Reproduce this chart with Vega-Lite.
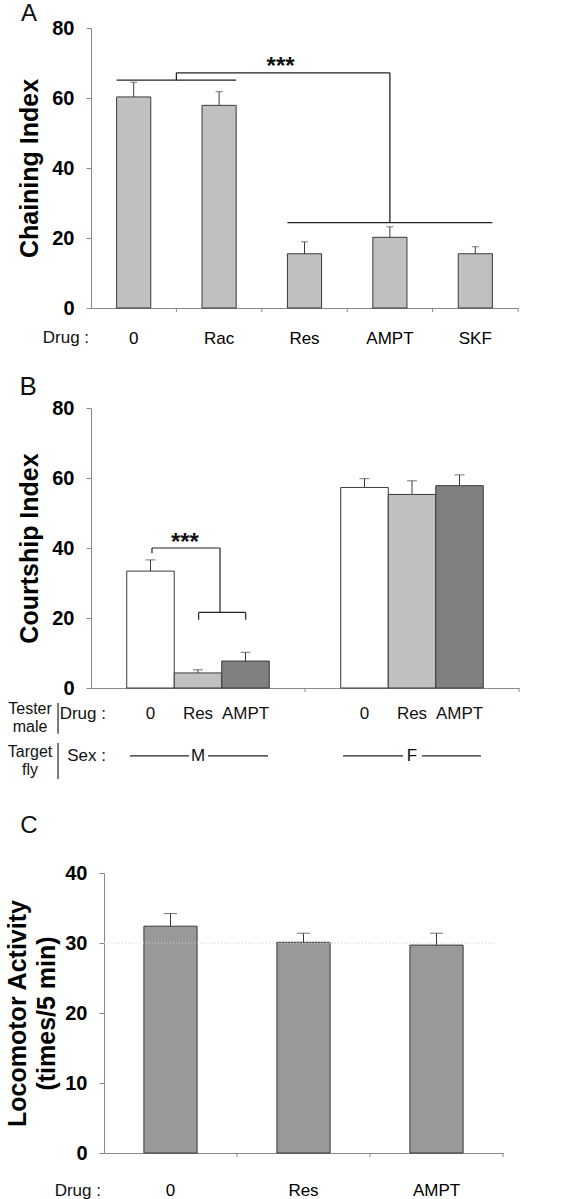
{
  "$schema": "https://vega.github.io/schema/vega-lite/v6.json",
  "padding": {"left": 5, "top": 2, "right": 5, "bottom": 2},
  "bounds": "flush",
  "spacing": 100,
  "datasets": {
    "barsA": [
      {"drug": "0", "value": 60.3, "hi": 64.5},
      {"drug": "Rac", "value": 57.9, "hi": 61.8},
      {"drug": "Res", "value": 15.5, "hi": 18.9},
      {"drug": "AMPT", "value": 20.2, "hi": 23.2},
      {"drug": "SKF", "value": 15.5, "hi": 17.5}
    ],
    "barsB": [
      {"sex": "M", "drug": "0", "value": 33.4, "hi": 36.6},
      {"sex": "M", "drug": "Res", "value": 4.3, "hi": 5.2},
      {"sex": "M", "drug": "AMPT", "value": 7.7, "hi": 10.2},
      {"sex": "F", "drug": "0", "value": 57.3, "hi": 59.8},
      {"sex": "F", "drug": "Res", "value": 55.3, "hi": 59.2},
      {"sex": "F", "drug": "AMPT", "value": 57.8, "hi": 60.9}
    ],
    "barsC": [
      {"drug": "0", "value": 32.4, "hi": 34.2},
      {"drug": "Res", "value": 30.1, "hi": 31.4},
      {"drug": "AMPT", "value": 29.7, "hi": 31.4}
    ]
  },
  "vconcat": [
    {
      "width": 427,
      "height": 280,
      "layer": [
        {
          "data": {"name": "barsA"},
          "encoding": {
            "x": {"field": "drug", "type": "nominal", "sort": null,
                  "scale": {"paddingInner": 0.6, "paddingOuter": 0.3},
                  "axis": {"title": null, "labelPadding": 30.5, "orient": "bottom"}}
          },
          "layer": [
            {"mark": {"type": "bar", "fill": "#c0c0c0", "stroke": "#3a3a3a", "strokeWidth": 1},
             "encoding": {"y": {"field": "value", "type": "quantitative", "scale": {"domain": [0, 80]},
                                "axis": {"title": "Chaining Index", "values": [0, 20, 40, 60, 80], "titleX": -62, "titleY": 140}}}},
            {"mark": {"type": "rule", "color": "#3a3a3a", "strokeWidth": 1},
             "encoding": {"y": {"field": "value", "type": "quantitative",
                                "axis": {"title": "Chaining Index", "values": [0, 20, 40, 60, 80], "titleX": -62, "titleY": 140}}, "y2": {"field": "hi"}}},
            {"mark": {"type": "tick", "color": "#3a3a3a", "size": 7, "thickness": 1},
             "encoding": {"y": {"field": "hi", "type": "quantitative",
                                "axis": {"title": "Chaining Index", "values": [0, 20, 40, 60, 80], "titleX": -62, "titleY": 140}}}}
          ]
        },
        {
          "encoding": {
            "x": {"field": "x", "type": "quantitative", "scale": {"domain": [0, 5], "nice": false, "zero": false}, "axis": null},
            "y": {"field": "y", "type": "quantitative", "scale": {"domain": [0, 80]},
                  "axis": {"title": "Chaining Index", "values": [0, 20, 40, 60, 80], "titleX": -62, "titleY": 140}}
          },
          "layer": [
            {"data": {"values": [
               {"x": 0.3, "x2": 1.7, "y": 65.1, "y2": 65.1},
               {"x": 1.0, "x2": 1.0, "y": 65.1, "y2": 67.2},
               {"x": 1.0, "x2": 3.5, "y": 67.2, "y2": 67.2},
               {"x": 3.5, "x2": 3.5, "y": 67.2, "y2": 24.4},
               {"x": 2.3, "x2": 4.7, "y": 24.4, "y2": 24.4}
             ]},
             "mark": {"type": "rule", "color": "#222222", "strokeWidth": 1.3},
             "encoding": {"x2": {"field": "x2"}, "y2": {"field": "y2"}}},
            {"data": {"values": [
               {"x": 1, "x2": 1, "y": 0, "y2": -1.14},
               {"x": 2, "x2": 2, "y": 0, "y2": -1.14},
               {"x": 3, "x2": 3, "y": 0, "y2": -1.14},
               {"x": 4, "x2": 4, "y": 0, "y2": -1.14},
               {"x": 5, "x2": 5, "y": 0, "y2": -1.14}
             ]},
             "mark": {"type": "rule", "color": "#888888", "strokeWidth": 1},
             "encoding": {"x2": {"field": "x2"}, "y2": {"field": "y2"}}},
            {"data": {"values": [{"t": "***", "x": 2.22, "y": 66.8}]},
             "mark": {"type": "text", "fontSize": 24, "fontWeight": "bold", "baseline": "alphabetic", "color": "#111111"},
             "encoding": {"text": {"field": "t"}}},
            {"data": {"values": [{"t": "A", "x": -0.726, "y": 83.9}]},
             "mark": {"type": "text", "fontSize": 24, "baseline": "middle", "color": "#111111"},
             "encoding": {"text": {"field": "t"}}},
            {"data": {"values": [{"t": "Drug :", "x": -0.023, "y": -8.43}]},
             "mark": {"type": "text", "fontSize": 17, "align": "right", "baseline": "middle", "color": "#111111"},
             "encoding": {"text": {"field": "t"}}}
          ]
        }
      ],
      "resolve": {"scale": {"x": "independent"}}
    },
    {
      "width": 428,
      "height": 280,
      "layer": [
        {
          "data": {"name": "barsB"},
          "encoding": {
            "x": {"field": "sex", "type": "nominal", "sort": null,
                  "scale": {"paddingInner": 0.334, "paddingOuter": 0.167},
                  "axis": {"title": null, "labels": false, "orient": "bottom"}},
            "xOffset": {"field": "drug", "type": "nominal", "sort": null, "scale": {"paddingInner": 0, "paddingOuter": 0}}
          },
          "layer": [
            {"mark": {"type": "bar", "stroke": "#3a3a3a", "strokeWidth": 1},
             "encoding": {
               "y": {"field": "value", "type": "quantitative", "scale": {"domain": [0, 80]},
                     "axis": {"title": "Courtship Index", "values": [0, 20, 40, 60, 80], "titleX": -62, "titleY": 140}},
               "fill": {"field": "drug", "type": "nominal", "sort": null,
                        "scale": {"domain": ["0", "Res", "AMPT"], "range": ["#ffffff", "#c0c0c0", "#808080"]}, "legend": null}
             }},
            {"mark": {"type": "rule", "color": "#3a3a3a", "strokeWidth": 1},
             "encoding": {"y": {"field": "value", "type": "quantitative",
                                "axis": {"title": "Courtship Index", "values": [0, 20, 40, 60, 80], "titleX": -62, "titleY": 140}}, "y2": {"field": "hi"}}},
            {"mark": {"type": "tick", "color": "#3a3a3a", "size": 10, "thickness": 1},
             "encoding": {"y": {"field": "hi", "type": "quantitative",
                                "axis": {"title": "Courtship Index", "values": [0, 20, 40, 60, 80], "titleX": -62, "titleY": 140}}}},
            {"mark": {"type": "text", "fontSize": 17, "baseline": "middle", "color": "#111111"},
             "encoding": {"y": {"datum": -7.4, "type": "quantitative",
                                "axis": {"title": "Courtship Index", "values": [0, 20, 40, 60, 80], "titleX": -62, "titleY": 140}}, "text": {"field": "drug"}}}
          ]
        },
        {
          "encoding": {
            "x": {"field": "x", "type": "quantitative", "scale": {"domain": [0, 2], "nice": false, "zero": false}, "axis": null},
            "y": {"field": "y", "type": "quantitative", "scale": {"domain": [0, 80]},
                  "axis": {"title": "Courtship Index", "values": [0, 20, 40, 60, 80], "titleX": -62, "titleY": 140}}
          },
          "layer": [
            {"data": {"values": [
               {"x": 0.285, "x2": 0.285, "y": 38.5, "y2": 40},
               {"x": 0.285, "x2": 0.603, "y": 40, "y2": 40},
               {"x": 0.603, "x2": 0.603, "y": 40, "y2": 21.6},
               {"x": 0.503, "x2": 0.723, "y": 21.6, "y2": 21.6},
               {"x": 0.503, "x2": 0.503, "y": 21.6, "y2": 19.5},
               {"x": 0.723, "x2": 0.723, "y": 21.6, "y2": 19.5},
               {"x": -0.154, "x2": -0.154, "y": -4.3, "y2": -13.1},
               {"x": -0.154, "x2": -0.154, "y": -15.7, "y2": -26},
               {"x": 0.182, "x2": 0.458, "y": -19.4, "y2": -19.4},
               {"x": 0.547, "x2": 0.827, "y": -19.4, "y2": -19.4},
               {"x": 1.178, "x2": 1.458, "y": -19.4, "y2": -19.4},
               {"x": 1.547, "x2": 1.822, "y": -19.4, "y2": -19.4}
             ]},
             "mark": {"type": "rule", "color": "#222222", "strokeWidth": 1.2},
             "encoding": {"x2": {"field": "x2"}, "y2": {"field": "y2"}}},
            {"data": {"values": [
               {"x": 1, "x2": 1, "y": 0, "y2": -1.14},
               {"x": 2, "x2": 2, "y": 0, "y2": -1.14}
             ]},
             "mark": {"type": "rule", "color": "#888888", "strokeWidth": 1},
             "encoding": {"x2": {"field": "x2"}, "y2": {"field": "y2"}}},
            {"data": {"values": [{"t": "***", "x": 0.439, "y": 39.4}]},
             "mark": {"type": "text", "fontSize": 24, "fontWeight": "bold", "baseline": "alphabetic", "color": "#111111"},
             "encoding": {"text": {"field": "t"}}},
            {"data": {"values": [{"t": "B", "x": -0.294, "y": 86}]},
             "mark": {"type": "text", "fontSize": 26, "baseline": "middle", "color": "#111111"},
             "encoding": {"text": {"field": "t"}}},
            {"data": {"values": [
               {"t": "Tester", "x": -0.285, "y": -5.9},
               {"t": "male", "x": -0.285, "y": -11.1},
               {"t": "Target", "x": -0.285, "y": -18.4},
               {"t": "fly", "x": -0.285, "y": -23.3}
             ]},
             "mark": {"type": "text", "fontSize": 16, "align": "center", "baseline": "middle", "color": "#111111"},
             "encoding": {"text": {"field": "t"}}},
            {"data": {"values": [
               {"t": "Drug :", "x": 0.07, "y": -7.4},
               {"t": "Sex :", "x": 0.07, "y": -19.4}
             ]},
             "mark": {"type": "text", "fontSize": 17, "align": "right", "baseline": "middle", "color": "#111111"},
             "encoding": {"text": {"field": "t"}}},
            {"data": {"values": [
               {"t": "M", "x": 0.5, "y": -19.4},
               {"t": "F", "x": 1.5, "y": -19.4}
             ]},
             "mark": {"type": "text", "fontSize": 17, "align": "center", "baseline": "middle", "color": "#111111"},
             "encoding": {"text": {"field": "t"}}}
          ]
        }
      ],
      "resolve": {"scale": {"x": "independent"}}
    },
    {
      "width": 412,
      "height": 365,
      "layer": [
        {
          "data": {"name": "barsC"},
          "encoding": {
            "x": {"field": "drug", "type": "nominal", "sort": null,
                  "scale": {"range": [13, 412], "paddingInner": 0.6, "paddingOuter": 0.3},
                  "axis": {"title": null, "labelPadding": 37.5, "orient": "bottom"}}
          },
          "layer": [
            {"mark": {"type": "bar", "fill": "#999999", "stroke": "#3a3a3a", "strokeWidth": 1},
             "encoding": {"y": {"field": "value", "type": "quantitative", "scale": {"domain": [0, 40], "range": [365, 85]},
                                "axis": {"title": ["Locomotor Activity", "(times/5 min)"], "values": [0, 10, 20, 30, 40], "offset": -13,
                                         "titleX": -87, "titleY": 225, "titleLineHeight": 29}}}},
            {"mark": {"type": "rule", "color": "#3a3a3a", "strokeWidth": 1},
             "encoding": {"y": {"field": "value", "type": "quantitative",
                                "axis": {"title": ["Locomotor Activity", "(times/5 min)"], "values": [0, 10, 20, 30, 40], "offset": -13,
                                         "titleX": -87, "titleY": 225, "titleLineHeight": 29}}, "y2": {"field": "hi"}}},
            {"mark": {"type": "tick", "color": "#3a3a3a", "size": 13, "thickness": 1},
             "encoding": {"y": {"field": "hi", "type": "quantitative",
                                "axis": {"title": ["Locomotor Activity", "(times/5 min)"], "values": [0, 10, 20, 30, 40], "offset": -13,
                                         "titleX": -87, "titleY": 225, "titleLineHeight": 29}}}}
          ]
        },
        {
          "encoding": {
            "x": {"field": "x", "type": "quantitative", "scale": {"domain": [0, 3], "range": [13, 412], "nice": false, "zero": false}, "axis": null},
            "y": {"field": "y", "type": "quantitative", "scale": {"domain": [0, 40], "range": [365, 85]},
                  "axis": {"title": ["Locomotor Activity", "(times/5 min)"], "values": [0, 10, 20, 30, 40], "offset": -13,
                           "titleX": -87, "titleY": 225, "titleLineHeight": 29}}
          },
          "layer": [
            {"data": {"values": [{"x": 0, "x2": 2.95, "y": 30, "y2": 30}]},
             "mark": {"type": "rule", "color": "#d0d0d0", "strokeWidth": 1, "strokeDash": [1, 2]},
             "encoding": {"x2": {"field": "x2"}, "y2": {"field": "y2"}}},
            {"data": {"values": [
               {"x": 1, "x2": 1, "y": 0, "y2": -0.57},
               {"x": 2, "x2": 2, "y": 0, "y2": -0.57},
               {"x": 3, "x2": 3, "y": 0, "y2": -0.57}
             ]},
             "mark": {"type": "rule", "color": "#888888", "strokeWidth": 1},
             "encoding": {"x2": {"field": "x2"}, "y2": {"field": "y2"}}},
            {"data": {"values": [{"t": "C", "x": -0.564, "y": 46.7}]},
             "mark": {"type": "text", "fontSize": 24, "baseline": "middle", "color": "#111111"},
             "encoding": {"text": {"field": "t"}}},
            {"data": {"values": [{"t": "Drug :", "x": -0.023, "y": -5.36}]},
             "mark": {"type": "text", "fontSize": 17, "align": "right", "baseline": "middle", "color": "#111111"},
             "encoding": {"text": {"field": "t"}}}
          ]
        }
      ],
      "resolve": {"scale": {"x": "independent"}}
    }
  ],
  "config": {
    "font": "Liberation Sans",
    "view": {"stroke": null},
    "axis": {"domainColor": "#888888", "tickColor": "#888888", "labelColor": "#000000", "titleColor": "#000000", "grid": false,
             "labelFont": "Liberation Sans", "titleFont": "Liberation Sans"},
    "axisY": {"labelFontSize": 20, "labelFontWeight": "bold", "tickSize": 5, "labelPadding": 12,
              "titleFontSize": 25, "titleFontWeight": "bold", "titleAngle": -90, "titleBaseline": "middle", "titleAlign": "center"},
    "axisX": {"labelFontSize": 17, "labelFontWeight": "normal", "ticks": false, "labelAngle": 0, "labelBaseline": "middle"}
  }
}
